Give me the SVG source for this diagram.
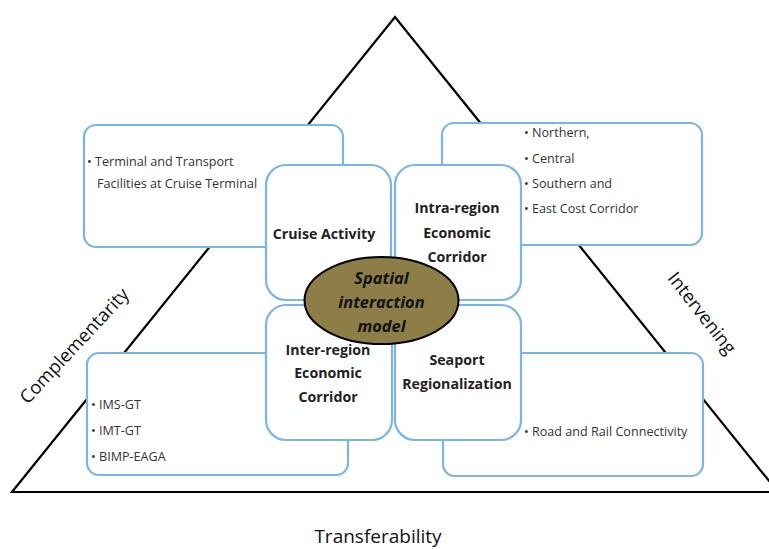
<svg xmlns="http://www.w3.org/2000/svg" width="769" height="549" viewBox="0 0 769 549">
<style>
.tri{fill:none;stroke:#000;stroke-width:2.2;stroke-linejoin:miter}
.outer{fill:#fff;stroke:#7db4e6;stroke-width:2.2}
.inner{fill:#fff;stroke:#7db4e6;stroke-width:2.2}
.title{font-family:"Open Sans","Noto Sans",sans-serif;font-weight:bold;font-size:14.2px;fill:#222;text-anchor:middle}
.bul{font-family:"Open Sans","Noto Sans",sans-serif;font-size:12.6px;fill:#333}
.lab{font-family:"Open Sans","Noto Sans",sans-serif;font-size:18.5px;fill:#111}
.core{font-family:"Open Sans","Noto Sans",sans-serif;font-weight:bold;font-style:italic;font-size:16.4px;fill:#111;text-anchor:middle}
</style>
<rect width="769" height="549" fill="#fff"/>
<g id="connectors">
<polyline class="tri" points="778,492 395,17 12,492 769,492"/>
</g>
<g id="box-terminal">
<rect class="outer" x="84" y="125" width="259" height="122" rx="12"/>
<text class="bul" x="87" y="166">• Terminal and Transport</text>
<text class="bul" x="97" y="188">Facilities at Cruise Terminal</text>
</g>
<g id="box-corridors">
<rect class="outer" x="442" y="123" width="260" height="122" rx="12"/>
<text class="bul" x="524" y="137">• Northern,</text>
<text class="bul" x="524" y="163">• Central</text>
<text class="bul" x="524" y="188">• Southern and</text>
<text class="bul" x="524" y="213">• East Cost Corridor</text>
</g>
<g id="box-gt">
<rect class="outer" x="87" y="353" width="261" height="122" rx="12"/>
<text class="bul" x="91" y="409">• IMS-GT</text>
<text class="bul" x="91" y="435">• IMT-GT</text>
<text class="bul" x="91" y="461">• BIMP-EAGA</text>
</g>
<g id="box-road">
<rect class="outer" x="443" y="353" width="260" height="123" rx="12"/>
<text class="bul" x="524" y="436">• Road and Rail Connectivity</text>
</g>
<g id="node-cruise">
<rect class="inner" x="266" y="165" width="125" height="135" rx="20"/>
<text class="title" x="324" y="239">Cruise Activity</text>
</g>
<g id="node-intra">
<rect class="inner" x="395" y="165" width="126" height="135" rx="20"/>
<text class="title" x="457" y="213">Intra-region</text>
<text class="title" x="457" y="238">Economic</text>
<text class="title" x="457" y="262">Corridor</text>
</g>
<g id="node-inter">
<rect class="inner" x="266" y="305" width="126" height="135" rx="20"/>
<text class="title" x="328" y="355">Inter-region</text>
<text class="title" x="328" y="378">Economic</text>
<text class="title" x="328" y="402">Corridor</text>
</g>
<g id="node-seaport">
<rect class="inner" x="395" y="305" width="126" height="135" rx="20"/>
<text class="title" x="457" y="365">Seaport</text>
<text class="title" x="457" y="389">Regionalization</text>
</g>
<g id="node-core">
<ellipse cx="381.5" cy="300.5" rx="77" ry="43.5" fill="#8c7e46" stroke="#000" stroke-width="2"/>
<text class="core" x="381.5" y="284">Spatial</text>
<text class="core" x="381.5" y="308">interaction</text>
<text class="core" x="381.5" y="332">model</text>
</g>
<g id="labels">
<text class="lab" text-anchor="middle" transform="translate(79,350) rotate(-47)">Complementarity</text>
<text class="lab" text-anchor="middle" transform="translate(697,317) rotate(52)">Intervening</text>
<text class="lab" text-anchor="middle" x="378" y="543" style="font-size:19px">Transferability</text>
</g>
</svg>
